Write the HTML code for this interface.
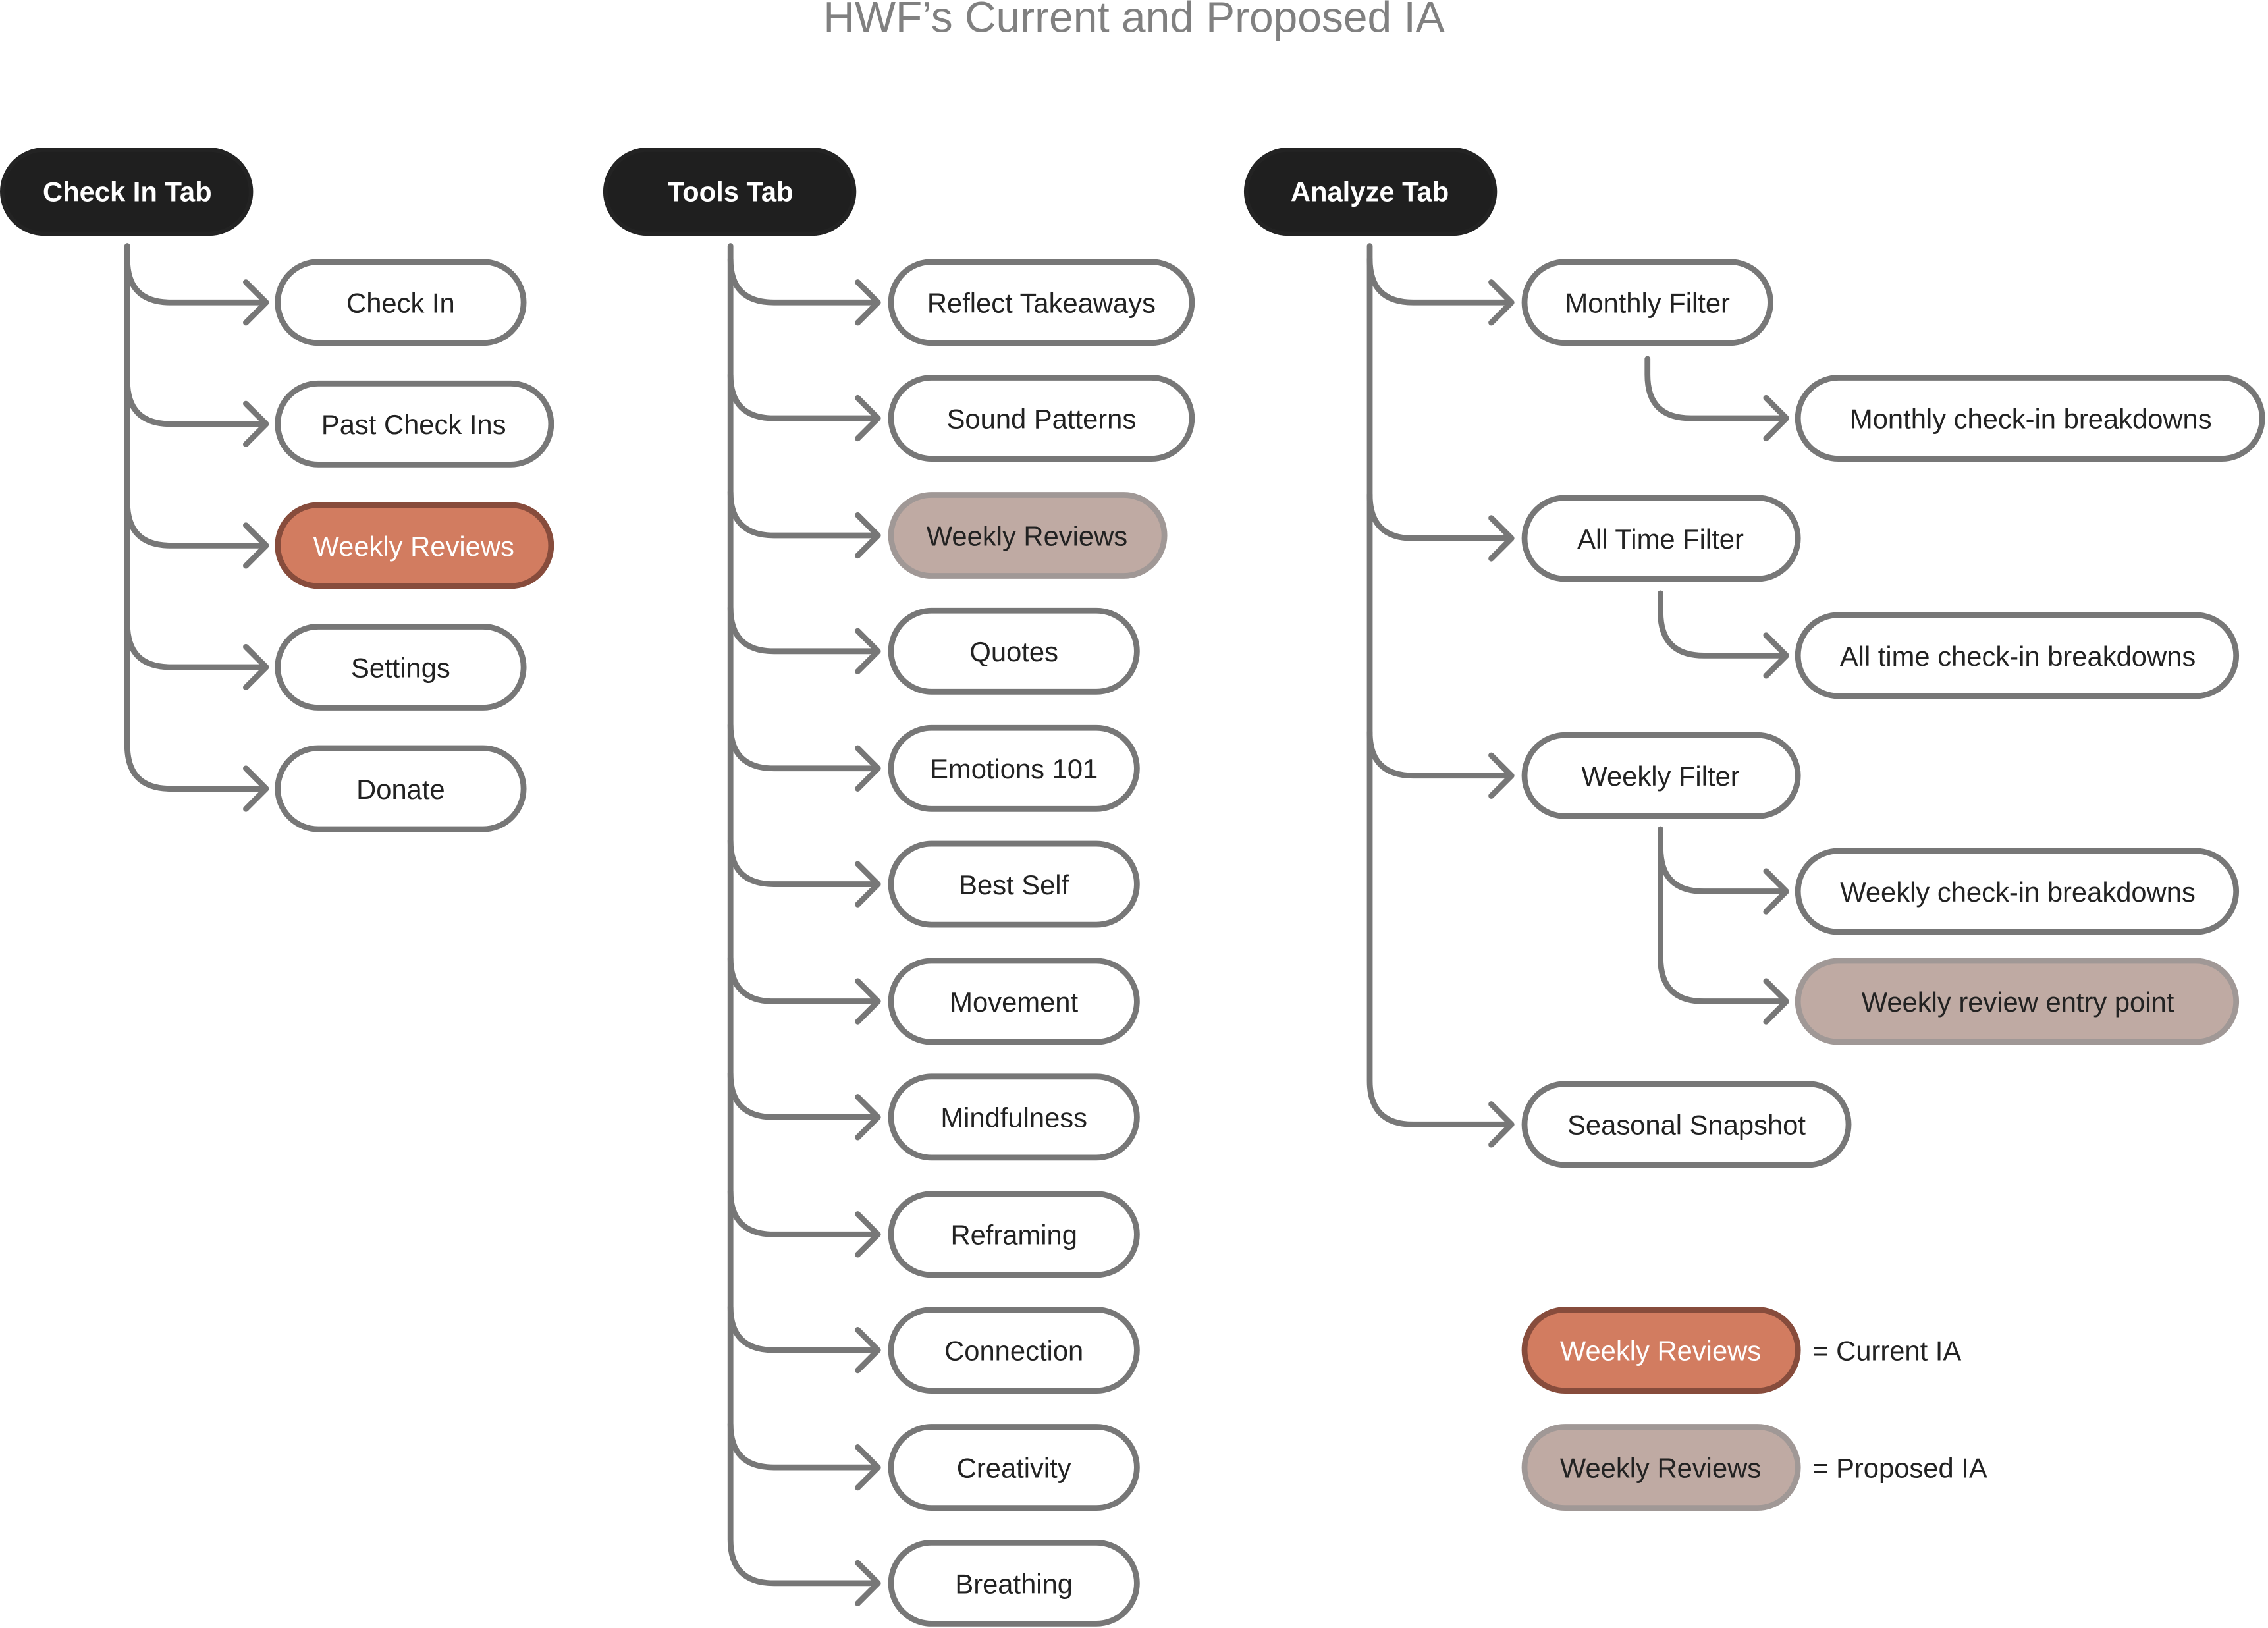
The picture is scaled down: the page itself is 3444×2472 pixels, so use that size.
<!DOCTYPE html>
<html><head><meta charset="utf-8"><style>
html,body{margin:0;padding:0;background:#fff;}
svg{display:block;width:3444px;height:2472px;}
text{font-family:"Liberation Sans",sans-serif;}
</style></head><body>
<svg viewBox="0 0 1568 1125" preserveAspectRatio="none" xmlns="http://www.w3.org/2000/svg">
<text x="784" y="22" text-anchor="middle" font-size="30" fill="#808080">HWF’s Current and Proposed IA</text>

<g fill="none" stroke="#777" stroke-width="4" stroke-linecap="round" stroke-linejoin="round">
<!-- col1 -->
<path d="M88 170 V515 Q88 545 118 545 H183"/>
<path d="M88 179 Q88 209 118 209 H183 M170 195 L184 209 L170 223"/>
<path d="M88 263 Q88 293 118 293 H183 M170 279 L184 293 L170 307"/>
<path d="M88 347 Q88 377 118 377 H183 M170 363 L184 377 L170 391"/>
<path d="M88 431 Q88 461 118 461 H183 M170 447 L184 461 L170 475"/>
<path d="M170 531 L184 545 L170 559"/>
<!-- col2 -->
<path d="M505 170 V1064 Q505 1094 535 1094 H606"/>
<path d="M505 179 Q505 209 535 209 H606 M593 195 L607 209 L593 223"/>
<path d="M505 259 Q505 289 535 289 H606 M593 275 L607 289 L593 303"/>
<path d="M505 340 Q505 370 535 370 H606 M593 356 L607 370 L593 384"/>
<path d="M505 420 Q505 450 535 450 H606 M593 436 L607 450 L593 464"/>
<path d="M505 501 Q505 531 535 531 H606 M593 517 L607 531 L593 545"/>
<path d="M505 581 Q505 611 535 611 H606 M593 597 L607 611 L593 625"/>
<path d="M505 662 Q505 692 535 692 H606 M593 678 L607 692 L593 706"/>
<path d="M505 742 Q505 772 535 772 H606 M593 758 L607 772 L593 786"/>
<path d="M505 823 Q505 853 535 853 H606 M593 839 L607 853 L593 867"/>
<path d="M505 903 Q505 933 535 933 H606 M593 919 L607 933 L593 947"/>
<path d="M505 984 Q505 1014 535 1014 H606 M593 1000 L607 1014 L593 1028"/>
<path d="M593 1080 L607 1094 L593 1108"/>
<!-- col3 -->
<path d="M947 170 V747 Q947 777 977 777 H1044"/>
<path d="M947 179 Q947 209 977 209 H1044 M1031 195 L1045 209 L1031 223"/>
<path d="M947 342 Q947 372 977 372 H1044 M1031 358 L1045 372 L1031 386"/>
<path d="M947 506 Q947 536 977 536 H1044 M1031 522 L1045 536 L1031 550"/>
<path d="M1031 763 L1045 777 L1031 791"/>
<!-- sub -->
<path d="M1139 248 V259 Q1139 289 1169 289 H1234 M1221 275 L1235 289 L1221 303"/>
<path d="M1148 410 V423 Q1148 453 1178 453 H1234 M1221 439 L1235 453 L1221 467"/>
<path d="M1148 573 V662 Q1148 692 1178 692 H1234 M1221 678 L1235 692 L1221 706"/>
<path d="M1148 586 Q1148 616 1178 616 H1234 M1221 602 L1235 616 L1221 630"/>
</g>

<!-- headers -->
<g fill="#1f1f1f" stroke="#232323" stroke-width="3">
<rect x="1.5" y="103.5" width="172" height="58" rx="29"/>
<rect x="418.5" y="103.5" width="172" height="58" rx="29"/>
<rect x="861.5" y="103.5" width="172" height="58" rx="29"/>
</g>
<g fill="#fff" font-size="19" font-weight="bold" text-anchor="middle">
<text x="88" y="139">Check In Tab</text>
<text x="505" y="139">Tools Tab</text>
<text x="947" y="139">Analyze Tab</text>
</g>

<!-- white boxes -->
<g fill="#fff" stroke="#777" stroke-width="4">
<rect x="192" y="181" width="170" height="56" rx="28"/>
<rect x="192" y="265" width="189" height="56" rx="28"/>
<rect x="192" y="433" width="170" height="56" rx="28"/>
<rect x="192" y="517" width="170" height="56" rx="28"/>

<rect x="616" y="181" width="208" height="56" rx="28"/>
<rect x="616" y="261" width="208" height="56" rx="28"/>
<rect x="616" y="422" width="170" height="56" rx="28"/>
<rect x="616" y="503" width="170" height="56" rx="28"/>
<rect x="616" y="583" width="170" height="56" rx="28"/>
<rect x="616" y="664" width="170" height="56" rx="28"/>
<rect x="616" y="744" width="170" height="56" rx="28"/>
<rect x="616" y="825" width="170" height="56" rx="28"/>
<rect x="616" y="905" width="170" height="56" rx="28"/>
<rect x="616" y="986" width="170" height="56" rx="28"/>
<rect x="616" y="1066" width="170" height="56" rx="28"/>

<rect x="1054" y="181" width="170" height="56" rx="28"/>
<rect x="1243" y="261" width="321" height="56" rx="28"/>
<rect x="1054" y="344" width="189" height="56" rx="28"/>
<rect x="1243" y="425" width="303" height="56" rx="28"/>
<rect x="1054" y="508" width="189" height="56" rx="28"/>
<rect x="1243" y="588" width="303" height="56" rx="28"/>
<rect x="1054" y="749" width="224" height="56" rx="28"/>
</g>

<!-- current -->
<g fill="#d27c60" stroke="#874c3c" stroke-width="4">
<rect x="192" y="349" width="189" height="56" rx="28"/>
<rect x="1054" y="905" width="189" height="56" rx="28"/>
</g>
<!-- proposed -->
<g fill="#bfaaa3" stroke="#a09896" stroke-width="4">
<rect x="616" y="342" width="189" height="56" rx="28"/>
<rect x="1243" y="664" width="303" height="56" rx="28"/>
<rect x="1054" y="986" width="189" height="56" rx="28"/>
</g>

<g fill="#222" font-size="19" text-anchor="middle">
<text x="277" y="216">Check In</text>
<text x="286" y="300">Past Check Ins</text>
<text x="277" y="468">Settings</text>
<text x="277" y="552">Donate</text>

<text x="720" y="216">Reflect Takeaways</text>
<text x="720" y="296">Sound Patterns</text>
<text x="710" y="377">Weekly Reviews</text>
<text x="701" y="457">Quotes</text>
<text x="701" y="538">Emotions 101</text>
<text x="701" y="618">Best Self</text>
<text x="701" y="699">Movement</text>
<text x="701" y="779">Mindfulness</text>
<text x="701" y="860">Reframing</text>
<text x="701" y="940">Connection</text>
<text x="701" y="1021">Creativity</text>
<text x="701" y="1101">Breathing</text>

<text x="1139" y="216">Monthly Filter</text>
<text x="1404" y="296">Monthly check-in breakdowns</text>
<text x="1148" y="379">All Time Filter</text>
<text x="1395" y="460">All time check-in breakdowns</text>
<text x="1148" y="543">Weekly Filter</text>
<text x="1395" y="623">Weekly check-in breakdowns</text>
<text x="1395" y="699">Weekly review entry point</text>
<text x="1166" y="784">Seasonal Snapshot</text>
<text x="1148" y="1021">Weekly Reviews</text>
</g>
<g fill="#fff" font-size="19" text-anchor="middle">
<text x="286" y="384">Weekly Reviews</text>
<text x="1148" y="940">Weekly Reviews</text>
</g>
<g fill="#222" font-size="19">
<text x="1253" y="940">= Current IA</text>
<text x="1253" y="1021">= Proposed IA</text>
</g>
</svg>
</body></html>
